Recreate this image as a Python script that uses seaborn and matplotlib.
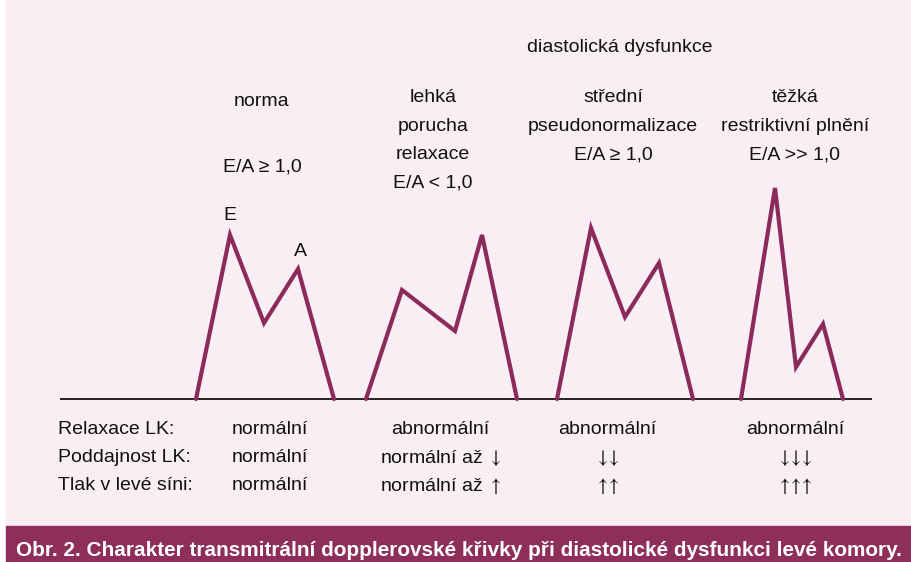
import matplotlib
matplotlib.use("Agg")
import matplotlib.pyplot as plt
import seaborn as sns
import numpy as np
from matplotlib.patches import Rectangle

sns.set_style("white")
plt.rcParams['font.family'] = ['Liberation Sans', 'DejaVu Sans']
plt.rcParams['mathtext.fontset'] = 'stix'

# Doppler E/A curves (time, velocity) for each stage
norma_t = [196, 230, 264, 298, 334]
norma_v = [0, 164, 76, 130, 0]
lehka_t = [366, 402, 455, 482, 517]
lehka_v = [0, 109, 68, 164, 0]
stredni_t = [557, 591, 625, 659, 693]
stredni_v = [0, 171, 82, 136, 0]
tezka_t = [741, 775, 796, 823, 843]
tezka_v = [0, 211, 32, 75, 0]

ratios = ["E/A ≥ 1,0", "E/A < 1,0", "E/A ≥ 1,0", "E/A >> 1,0"]
row_labels = ["Relaxace LK:", "Poddajnost LK:", "Tlak v levé síni:"]
relaxace = ["normální", "abnormální", "abnormální", "abnormální"]
poddajnost = ["normální", r"normální až $\downarrow$", r"$\downarrow\!\!\downarrow$",
              r"$\downarrow\!\!\downarrow\!\!\downarrow$"]
tlak = ["normální", r"normální až $\uparrow$", r"$\uparrow\!\!\uparrow$",
        r"$\uparrow\!\!\uparrow\!\!\uparrow$"]
caption = "Obr. 2. Charakter transmitrální dopplerovské křivky při diastolické dysfunkci levé komory."

line_color = "#8b2b5c"
bg_color = "#f8eef3"
banner_color = "#8e2e5b"

fig = plt.figure(figsize=(9.12, 5.62), dpi=100, facecolor="white")
ax = fig.add_axes([0, 0, 1, 1])
ax.set_xlim(0, 912)
ax.set_ylim(-163, 399)
ax.axis("off")

def py(y):
    # pixel row -> data y (baseline at row 399)
    return 399 - y

ax.add_patch(Rectangle((6, py(526)), 906, 526, color=bg_color, zorder=0))
ax.add_patch(Rectangle((6, py(562)), 906, 36, color=banner_color, zorder=0))

ax.hlines(0, 60, 872, color="black", lw=1.2, zorder=2)

for t, v in [(norma_t, norma_v), (lehka_t, lehka_v), (stredni_t, stredni_v), (tezka_t, tezka_v)]:
    sns.lineplot(x=t, y=v, ax=ax, color=line_color, lw=3, sort=False,
                 estimator=None, zorder=3, solid_joinstyle="miter")

fs = 14
tc = "#111111"
col_x = [262, 433, 613, 795]
ax.text(620, py(48), "diastolická dysfunkce", ha="center", va="center", fontsize=fs, color=tc)

ax.text(col_x[0], py(102), "norma", ha="center", va="center", fontsize=fs, color=tc)
ax.text(col_x[0], py(167), ratios[0], ha="center", va="center", fontsize=fs, color=tc)
for i, lbl in enumerate(["lehká", "porucha", "relaxace", ratios[1]]):
    ax.text(col_x[1], py(98 + 28.2 * i), lbl, ha="center", va="center", fontsize=fs, color=tc)
for i, lbl in enumerate(["střední", "pseudonormalizace", ratios[2]]):
    ax.text(col_x[2], py(98 + 28.5 * i), lbl, ha="center", va="center", fontsize=fs, color=tc)
for i, lbl in enumerate(["těžká", "restriktivní plnění", ratios[3]]):
    ax.text(col_x[3], py(98 + 28.5 * i), lbl, ha="center", va="center", fontsize=fs, color=tc)

ax.text(norma_t[1], norma_v[1] + 20, "E", ha="center", va="center", fontsize=fs, color=tc)
ax.text(norma_t[3] + 2, norma_v[3] + 17, "A", ha="center", va="center", fontsize=fs, color=tc)

val_x = [270, 440, 607, 795]
for r, (lab, vals) in enumerate(zip(row_labels, [relaxace, poddajnost, tlak])):
    yy = py(430 + 28 * r)
    ax.text(58, yy, lab, ha="left", va="center", fontsize=fs, color=tc)
    for x, v in zip(val_x, vals):
        ax.text(x, yy, v, ha="center", va="center", fontsize=fs, color=tc)

cap = ax.text(459, py(550), caption, ha="center", va="center", fontsize=15,
              fontweight="bold", color="white")
fig.canvas.draw()
w = cap.get_window_extent().width
cap.set_fontsize(15 * 890 / w)

fig.savefig("out.png", dpi=100, facecolor=fig.get_facecolor())
